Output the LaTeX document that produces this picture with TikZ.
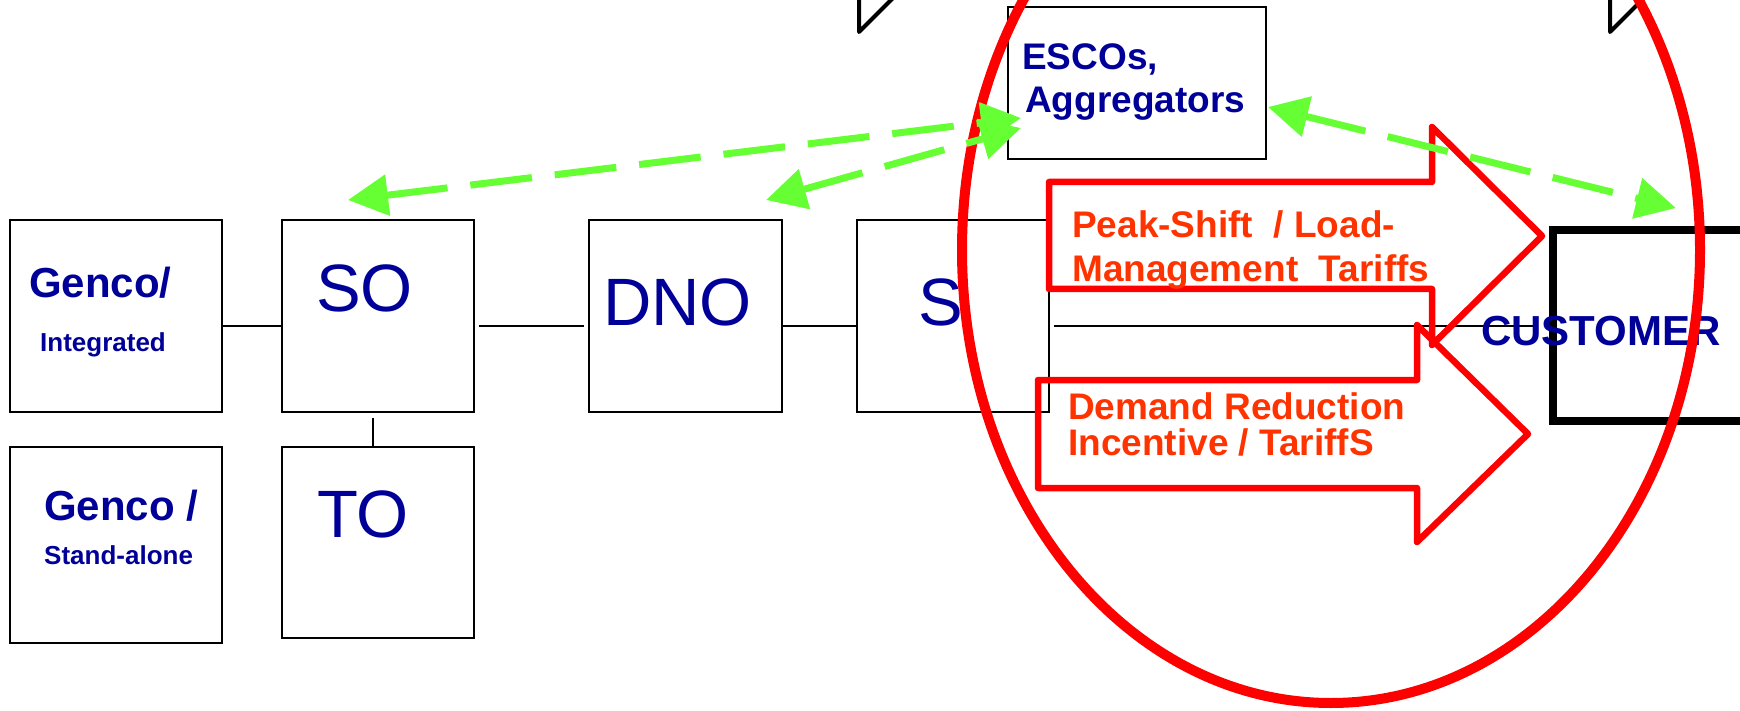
\documentclass[tikz,border=0pt]{standalone}
\usepackage{fontspec}
\setmainfont{Liberation Sans}
\usetikzlibrary{arrows.meta,calc}
\definecolor{txtblue}{RGB}{0,0,153}
\definecolor{hotred}{RGB}{255,0,0}
\definecolor{tariffred}{RGB}{255,51,0}
\definecolor{limegreen}{RGB}{102,255,51}

\begin{document}
\begin{tikzpicture}[x=1pt,y=-1pt,
  box/.style={draw=black, line width=2pt, inner sep=0pt},
  wire/.style={draw=black, line width=1.8pt},
  bigname/.style={anchor=base west, inner sep=0pt, text=txtblue,
    font=\fontsize{67}{80}\selectfont},
  boldname/.style={anchor=base west, inner sep=0pt, text=txtblue,
    font=\fontsize{42}{50}\selectfont\bfseries},
  smallname/.style={anchor=base west, inner sep=0pt, text=txtblue,
    font=\fontsize{26}{31}\selectfont\bfseries},
  midname/.style={anchor=base west, inner sep=0pt, text=txtblue,
    font=\fontsize{37}{44}\selectfont\bfseries},
  tariff/.style={anchor=base west, inner sep=0pt, text=tariffred,
    font=\fontsize{37}{44}\selectfont\bfseries},
  tarrow/.style={draw=hotred, line width=6.5pt, line join=round},
  gflow/.style={draw=limegreen, line width=7pt, dash pattern=on 62pt off 23pt,
    {Triangle[length=40pt,width=40pt]}-{Triangle[length=40pt,width=40pt]}},
  wedge/.style={draw=black, line width=4pt, line join=round}
]
\useasboundingbox (0,0) rectangle (1740,711);
\clip (0,0) rectangle (1740,711);

% market participants
\node[box, minimum width=212pt, minimum height=192pt] (gen1) at (116,316) {};
\node[box, minimum width=192pt, minimum height=192pt] (so) at (378,316) {};
\node[box, minimum width=212pt, minimum height=196pt] (gen2) at (116,545) {};
\node[box, minimum width=192pt, minimum height=191pt] (to) at (378,542.5) {};
\node[box, minimum width=193pt, minimum height=192pt] (dno) at (685.5,316) {};
\node[box, minimum width=192pt, minimum height=192pt] (s) at (953,316) {};
\node[box, minimum width=258pt, minimum height=152pt] (escos) at (1137,83) {};
\node[box, line width=8pt, minimum width=200pt, minimum height=191pt] (cust) at (1653,325.5) {};

% supply chain wiring
\coordinate (bus) at (0,326);
\draw[wire] (gen1.east |- bus) -- (so.west |- bus);
\draw[wire, shorten <=4pt, shorten >=4pt] (so.east |- bus) -- (dno.west |- bus);
\draw[wire] (dno.east |- bus) -- (s.west |- bus);
\draw[wire, shorten <=4pt, shorten >=11pt] (s.east |- bus) -- (cust.west |- bus);
\draw[wire, shorten <=5pt] ([xshift=-5pt]so.south) -- ([xshift=-5pt]to.north);

% tariff arrows
\draw[tarrow] (1049,182) -- (1432,182) -- (1432,127) -- (1542,236)
  -- (1432,345) -- (1432,289) -- (1049,289) -- cycle;
\draw[tarrow] (1038,380) -- (1417,380) -- (1417,325) -- (1528,434)
  -- (1417,542) -- (1417,488) -- (1038,488) -- cycle;

% labels
\node[boldname] (t-gen1) at (29,298) {Genco/};
\node[smallname] (t-int) at (40,352) {Integrated};
\node[boldname] (t-gen2) at (44,520) {Genco /};
\node[smallname] (t-sa) at (44,564) {Stand-alone};
\node[bigname] (t-so) at (316,312) {SO};
\node[bigname] (t-to) at (317,537) {TO};
\node[bigname] (t-dno) at (603,325) {DNO};
\node[bigname] (t-s) at (918,325) {S};
\node[midname] (t-esc1) at (1022,70) {ESCOs,};
\node[midname] (t-esc2) at (1025,113) {Aggregators};
\node[boldname] (t-cust) at (1481,345) {CUSTOMER};
\node[tariff] (t-pk1) at (1072,238) {Peak-Shift\ \ / Load-};
\node[tariff] (t-pk2) at (1072,282) {Management\ \ Tariffs};
\node[tariff] (t-dr1) at (1068,419) {Demand Reduction};
\node[tariff] (t-dr2) at (1068,455) {Incentive / TariffS};

% corners of shapes above the frame
\draw[wedge] (859,-10) -- (859,32) -- (901,-10);
\draw[wedge] (1610,-10) -- (1610,32) -- (1652,-10);

% highlighted customer-side region
\draw[hotred, line width=10pt] (1331,250) ellipse [x radius=369pt, y radius=453pt];

% information flows with the aggregators
\draw[gflow] ($(so.north)+(-30,-19)$) -- ($(escos.west)+(14,35)$);
\draw[gflow] ($(dno.north)+(80.5,-19)$) -- ($(escos.west)+(14,45)$);
\draw[gflow] ($(escos.east)+(1,24)$) -- ($(cust.north west)+(127,-18)$);
\end{tikzpicture}
\end{document}
